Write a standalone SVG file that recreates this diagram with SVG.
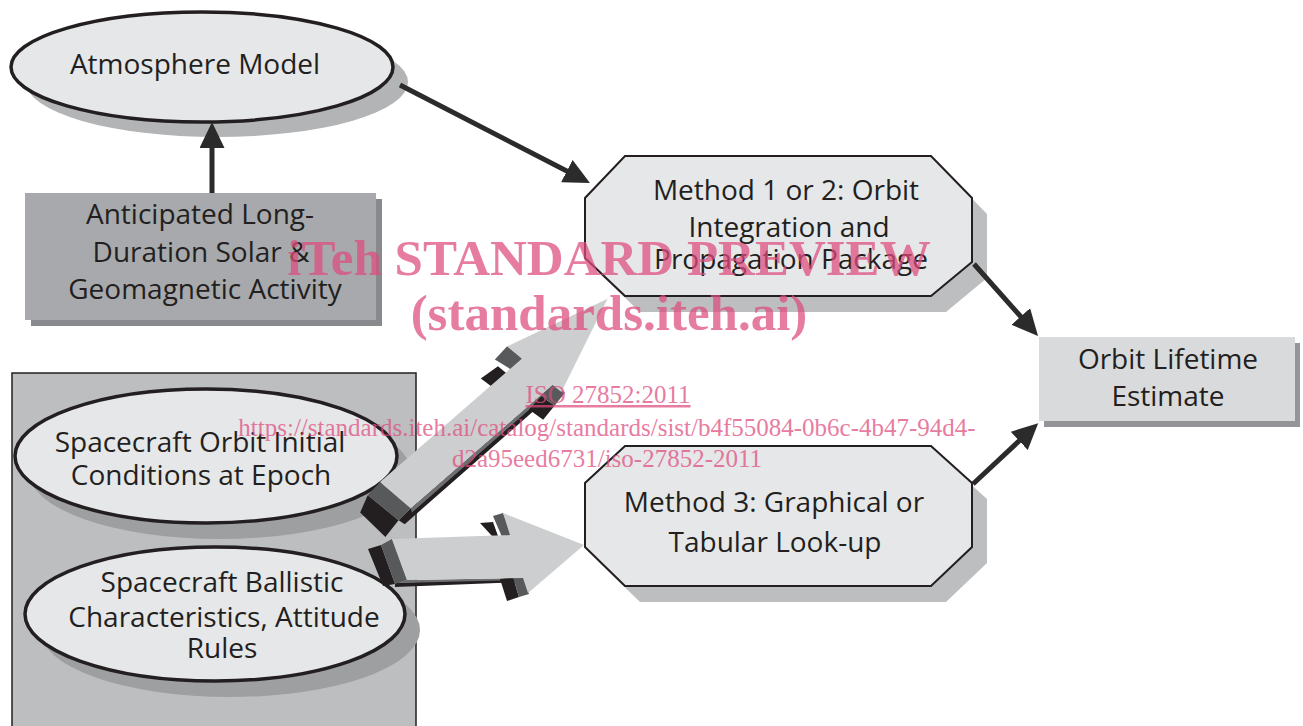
<svg xmlns="http://www.w3.org/2000/svg" width="1303" height="726" viewBox="0 0 1303 726">
  <defs>
    <style>
      .lbl { font-family: "Open Sans", "Noto Sans", "Liberation Sans", sans-serif; font-size: 28px; fill: #231f20; text-anchor: middle; }
      .ell { fill: #e6e7e8; stroke: #231f20; stroke-width: 3.5; }
      .oct { fill: #e6e7e8; stroke: #231f20; stroke-width: 2; }
      .conn { fill: none; stroke: #2b2b2b; stroke-width: 5; }
      .face { fill: #cdcecf; }
      .side { fill: #58595b; }
      .under { fill: #231f20; }
      .wm { font-family: "Liberation Serif", "Times New Roman", serif; fill: #df4b7d; opacity: 0.72; text-anchor: middle; }
    </style>
    <marker id="head" viewBox="0 0 26 25" refX="13" refY="12.5" markerWidth="26" markerHeight="25" markerUnits="userSpaceOnUse" orient="auto">
      <path d="M0,0 L26,12.5 L0,25 Z" fill="#2b2b2b"/>
    </marker>
  </defs>

  <rect width="1303" height="726" fill="#ffffff"/>

  <!-- spacecraft inputs panel -->
  <g id="inputs-panel">
    <rect x="12" y="373" width="404" height="370" fill="#bcbec0" stroke="#231f20" stroke-width="1.5"/>
  </g>

  <g id="atmosphere-model">
    <ellipse cx="217" cy="82" rx="191" ry="55" fill="#b3b4b6"/>
    <ellipse class="ell" cx="202" cy="67" rx="191" ry="55"/>
    <text class="lbl" x="195" y="74">Atmosphere Model</text>
  </g>

  <g id="solar-activity">
    <rect x="31" y="199" width="351" height="127" fill="#87898c"/>
    <rect x="25" y="193" width="351" height="127" fill="#a7a9ac"/>
    <text class="lbl" x="200" y="224">Anticipated Long-</text>
    <text class="lbl" x="201" y="262">Duration Solar &amp;</text>
    <text class="lbl" x="205" y="299">Geomagnetic Activity</text>
  </g>

  <g id="initial-conditions">
    <ellipse cx="220" cy="472" rx="191" ry="67" fill="#9d9fa1"/>
    <ellipse class="ell" cx="206" cy="456" rx="191" ry="67"/>
    <text class="lbl" x="200" y="452">Spacecraft Orbit Initial</text>
    <text class="lbl" x="201" y="485">Conditions at Epoch</text>
  </g>

  <g id="ballistic-characteristics">
    <ellipse cx="230" cy="630" rx="190" ry="67" fill="#9d9fa1"/>
    <ellipse class="ell" cx="215" cy="614" rx="190" ry="67"/>
    <text class="lbl" x="222" y="592">Spacecraft Ballistic</text>
    <text class="lbl" x="224" y="627">Characteristics, Attitude</text>
    <text class="lbl" x="222" y="658">Rules</text>
  </g>

  <g id="method-1-2">
    <polygon points="640,172 946,172 987,214 987,278 946,312 640,312 600,274 600,214" fill="#bcbec0"/>
    <polygon class="oct" points="625,156 931,156 972,198 972,262 931,296 625,296 585,258 585,198"/>
    <text class="lbl" x="786" y="200">Method 1 or 2: Orbit</text>
    <text class="lbl" x="789" y="237">Integration and</text>
    <text class="lbl" x="791" y="269">Propagation Package</text>
  </g>

  <g id="method-3">
    <polygon points="640,462 946,462 987,499 987,563 946,602 640,602 600,563 600,499" fill="#bcbec0"/>
    <polygon class="oct" points="625,446 931,446 972,483 972,547 931,586 625,586 585,547 585,483"/>
    <text class="lbl" x="774" y="512">Method 3: Graphical or</text>
    <text class="lbl" x="775" y="552">Tabular Look-up</text>
  </g>

  <g id="orbit-lifetime">
    <rect x="1044" y="343" width="256" height="84" fill="#939598"/>
    <rect x="1039" y="337" width="256" height="84" fill="#d9dadb"/>
    <text class="lbl" x="1168" y="369">Orbit Lifetime</text>
    <text class="lbl" x="1168" y="406">Estimate</text>
  </g>

  <g id="connectors">
    <line class="conn" x1="400" y1="85" x2="578.4" y2="177" marker-end="url(#head)"/>
    <line class="conn" x1="212" y1="193" x2="212" y2="135" marker-end="url(#head)"/>
    <line class="conn" x1="974" y1="264" x2="1029.4" y2="326.2" marker-end="url(#head)"/>
    <line class="conn" x1="973" y1="484" x2="1028.7" y2="432" marker-end="url(#head)"/>

    <!-- 3-D block arrow: initial conditions into the integration package -->
    <g transform="translate(380,482) rotate(-41)">
      <polygon class="under" points="-35,10 -18,2 -11,41 -32,45"/>
      <polygon class="under" points="-11,41 6,40 194,40 194,47 -9,48"/>
      <polygon fill="#6d6e71" points="6,40 194,40 194,43 4,44"/>
      <polygon class="under" points="144,-12 165,-10 167,2 147,2"/>
      <polygon class="under" points="160,43 178,41 182,57 164,60"/>
      <polygon class="side" points="-18,2 0,0 6,40 -11,41"/>
      <polygon class="side" points="167,-17 185,-19 189,1 173,2"/>
      <polygon class="side" points="178,40 194,38 198,54 182,57"/>
      <polygon class="face" points="0,0 188,0 185,-19 292,11 196,51 194,40 6,40"/>
    </g>

    <!-- 3-D block arrow: ballistic data into the look-up method -->
    <g transform="translate(392,539)">
      <polygon class="under" points="-24,10 -11,6 3,45 -9,47"/>
      <polygon class="under" points="3,44 131,39 131,43 3,48"/>
      <polygon fill="#6d6e71" points="15,41 131,39 131,41 6,44"/>
      <polygon class="under" points="88,-16 101,-17 106,-3 100,-3"/>
      <polygon class="under" points="108,40 121,38 127,58 115,62"/>
      <polygon class="side" points="-11,6 0,0 15,41 3,45"/>
      <polygon class="side" points="101,-23 111,-26 120,-4 110,-2"/>
      <polygon class="side" points="121,38 131,36 137,55 127,58"/>
      <polygon class="face" points="0,0 118,-4 111,-26 192,6 136,54 131,39 15,41"/>
    </g>
  </g>

  <!-- catalogue overprint -->
  <g id="overprint">
    <text class="wm" x="609" y="275" font-size="51" font-weight="bold">iTeh STANDARD PREVIEW</text>
    <text class="wm" x="609" y="330" font-size="51" font-weight="bold">(standards.iteh.ai)</text>
    <text class="wm" x="608" y="403" font-size="25" text-decoration="underline">ISO 27852:2011</text>
    <text class="wm" x="607" y="436" font-size="25">https://standards.iteh.ai/catalog/standards/sist/b4f55084-0b6c-4b47-94d4-</text>
    <text class="wm" x="607" y="467" font-size="25">d2a95eed6731/iso-27852-2011</text>
  </g>
</svg>
